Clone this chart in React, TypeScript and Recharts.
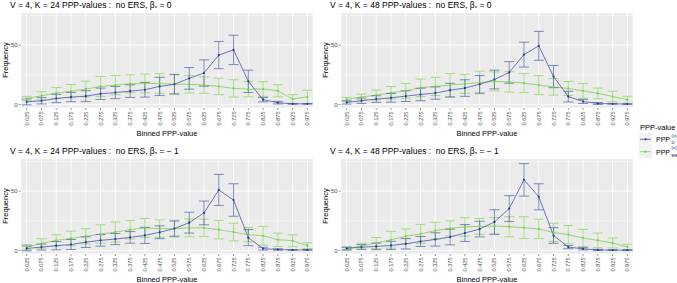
import React from 'react';
import { ComposedChart, Line, XAxis, YAxis, CartesianGrid, ErrorBar, ReferenceLine } from 'recharts';

const bins = [
  '0.025', '0.075', '0.125', '0.175', '0.225', '0.275', '0.325', '0.375', '0.425', '0.475',
  '0.525', '0.575', '0.625', '0.675', '0.725', '0.775', '0.825', '0.875', '0.925', '0.975',
];

// V = 4, K = 24, beta = 0
const k24b0D = [2.2, 3.1, 5, 6.2, 7, 9, 10, 11.2, 12.4, 15.2, 17, 22, 26.5, 41.6, 46, 19.5, 4, 1.5, 0.5, 0.5];
const k24b0DErr = [2.5, 2.7, 3.5, 3.9, 4.6, 4.8, 5.1, 5.3, 6.2, 7.7, 8.1, 9.1, 11.1, 11.5, 12.4, 9.4, 1.8, 1.1, 0.3, 0.3];
const k24b0ER = [5, 7.3, 9.6, 11.2, 13, 15.2, 16.3, 17.4, 17.7, 17.7, 17, 17, 16.3, 15.2, 13.5, 12.9, 13, 11.5, 4.5, 6.4];
const k24b0ERErr = [1.8, 3.4, 4.6, 5.6, 6.6, 8.4, 8.1, 7.6, 7.9, 8.3, 8.4, 7.3, 6.9, 7, 7.3, 6.5, 6.2, 5.2, 3.8, 5.6];

// V = 4, K = 48, beta = 0
const k48b0D = [1.7, 3.1, 4.5, 5.6, 7, 8.4, 9.6, 12, 13.8, 17, 21, 27, 42, 49.4, 23.5, 6.6, 2.5, 0.8, 0.5, 0.3];
const k48b0DErr = [1.4, 2.2, 2.8, 3.7, 4.5, 5.3, 5.2, 5.8, 7, 7.4, 7.9, 9.1, 10.5, 12.2, 9.4, 4.5, 1.7, 0.8, 0.3, 0.3];
const k48b0ER = [4.2, 6.2, 7.9, 9.8, 11.5, 14, 15.2, 16.3, 17.4, 18.5, 19.4, 19, 18, 16.3, 14.8, 13.5, 11.5, 9.3, 6.7, 3.9];
const k48b0ERErr = [1.7, 2.5, 4.2, 5.3, 6.2, 7.4, 7.7, 9.8, 8, 9.6, 8, 8.6, 8, 8, 7, 5.9, 6.2, 4.5, 4.5, 3];

// V = 4, K = 24, beta = -1
const k24bm1D = [1.7, 2.8, 4, 5, 7, 8.5, 9.6, 11, 12.7, 15.3, 18.4, 23.4, 31.6, 51, 42.5, 10.8, 1.5, 0.8, 0.4, 0.4];
const k24bm1DErr = [2, 2.5, 3.5, 4.2, 4.5, 4.9, 4.7, 4.9, 6.8, 5.4, 6.4, 8.8, 10, 13.1, 13.7, 6.8, 1.2, 0.6, 0.3, 0.3];
const k24bm1ER = [2.8, 5.9, 8.5, 10.2, 11.9, 13.8, 15.5, 17.5, 19, 18.4, 18.4, 19, 19, 17.5, 15.5, 13.3, 12.4, 9, 8.2, 4];
const k24bm1ERErr = [2.1, 4, 4.7, 6.1, 6.4, 7.8, 8.5, 7.8, 8, 7.3, 7.1, 7.5, 7.3, 7.8, 7.5, 6, 7.9, 5.6, 5, 2.5];

// V = 4, K = 48, beta = -1
const k48bm1D = [1.7, 2.8, 3.4, 4.2, 5.6, 7.6, 9.3, 11.3, 14.7, 18, 24, 35.3, 59.5, 45.2, 12.6, 2.8, 1.4, 0.4, 0.3, 0.3];
const k48bm1DErr = [1.1, 2.1, 2.8, 3.5, 4.4, 4.2, 5.6, 6.6, 7.1, 6.6, 10.3, 10.9, 13.7, 11, 6.6, 1.4, 1, 0.5, 0.3, 0.3];
const k48bm1ER = [1.4, 4, 6.2, 9, 11.9, 14, 16.7, 18.6, 19.8, 20.3, 20.6, 20, 19.2, 18.1, 15.2, 13.3, 10.5, 8.5, 6.3, 2.9];
const k48bm1ERErr = [1.4, 2.1, 4.7, 7.1, 6.2, 8, 7.1, 6.4, 7.8, 6.6, 7.1, 8.5, 9.2, 8.2, 7.7, 7.7, 7.3, 6.2, 4.2, 2.4];

const yTicks = [0, 50];

const BLUE = '#4657A5';
const GREEN = '#7ED24A';
const FONT = '"Liberation Sans", Arial, sans-serif';

function buildRows(d: number[], dErr: number[], er: number[], erErr: number[]) {
  return bins.map((bin, i) => ({ bin, d: d[i], dErr: dErr[i], er: er[i], erErr: erErr[i] }));
}

const panels = [
  { k: '24', beta: '0', left: 0, top: 0, rows: buildRows(k24b0D, k24b0DErr, k24b0ER, k24b0ERErr) },
  { k: '48', beta: '0', left: 320, top: 0, rows: buildRows(k48b0D, k48b0DErr, k48b0ER, k48b0ERErr) },
  { k: '24', beta: '\u2212 1', left: 0, top: 146.3, rows: buildRows(k24bm1D, k24bm1DErr, k24bm1ER, k24bm1ERErr) },
  { k: '48', beta: '\u2212 1', left: 320, top: 146.3, rows: buildRows(k48bm1D, k48bm1DErr, k48bm1ER, k48bm1ERErr) },
];

const XTick = (props: any) => {
  const { x, y, payload } = props;
  return (
    <text
      x={x}
      y={y}
      transform={`rotate(-90 ${x} ${y})`}
      textAnchor="end"
      dominantBaseline="central"
      fontSize={5.6}
      fontFamily={FONT}
      fill="#4D4D4D"
    >
      {payload.value}
    </text>
  );
};

function Panel({ k, beta, left, top, rows }: any) {
  return (
    <div style={{ position: 'absolute', left, top, width: 320, height: 140 }}>
      <ComposedChart
        width={320}
        height={140}
        data={rows}
        margin={{ top: 12.5, right: 6.6, left: 6.7, bottom: 0 }}
      >
        <CartesianGrid fill="#EBEBEB" fillOpacity={1} stroke="#FFFFFF" strokeWidth={0.9} />
        <ReferenceLine y={25} stroke="#FFFFFF" strokeWidth={0.45} />
        <ReferenceLine y={75} stroke="#FFFFFF" strokeWidth={0.45} />
        <XAxis
          dataKey="bin"
          type="category"
          interval={0}
          padding={{ left: 6, right: 6 }}
          height={32}
          axisLine={false}
          tickLine={{ stroke: '#333333', strokeWidth: 0.5 }}
          tickSize={2}
          tickMargin={1.5}
          tick={<XTick />}
        />
        <YAxis
          type="number"
          domain={[-3, 77.5]}
          ticks={yTicks}
          allowDataOverflow
          width={14}
          axisLine={false}
          tickLine={{ stroke: '#333333', strokeWidth: 0.5 }}
          tickSize={2}
          tickMargin={1}
          tick={{ fontSize: 6, fill: '#4D4D4D', fontFamily: FONT }}
        />
        <Line
          dataKey="er"
          stroke={GREEN}
          strokeWidth={0.8}
          dot={{ r: 1.1, fill: GREEN, stroke: GREEN, strokeWidth: 0 }}
          isAnimationActive={false}
        >
          <ErrorBar dataKey="erErr" width={5} stroke={GREEN} strokeWidth={0.8} strokeOpacity={0.85} />
        </Line>
        <Line
          dataKey="d"
          stroke={BLUE}
          strokeWidth={0.8}
          dot={{ r: 1.1, fill: '#2B3C8C', stroke: '#2B3C8C', strokeWidth: 0 }}
          isAnimationActive={false}
        >
          <ErrorBar dataKey="dErr" width={5} stroke={BLUE} strokeWidth={0.8} strokeOpacity={0.85} />
        </Line>
      </ComposedChart>
      <div
        style={{
          position: 'absolute', left: 10, top: 0, fontSize: 8.5, lineHeight: '10px',
          fontFamily: FONT, color: '#000', whiteSpace: 'pre',
        }}
      >
        {`V = 4, K = ${k} PPP-values :  no ERS, \u03B2`}
        <sub style={{ fontSize: 6, verticalAlign: '-1.5px' }}>*</sub>
        {` = ${beta}`}
      </div>
      <div
        style={{
          position: 'absolute', left: 5, top: 60, fontSize: 7.5, fontFamily: FONT, color: '#000',
          transform: 'translate(-50%, -50%) rotate(-90deg)', whiteSpace: 'nowrap',
        }}
      >
        Frequency
      </div>
      <div
        style={{
          position: 'absolute', left: 167, top: 133, fontSize: 7.5, fontFamily: FONT, color: '#000',
          transform: 'translate(-50%, -50%)', whiteSpace: 'nowrap',
        }}
      >
        Binned PPP-value
      </div>
    </div>
  );
}

function LegendBox() {
  return (
    <svg width={41} height={45} style={{ position: 'absolute', left: 636, top: 120 }}>
      <text x={4} y={9.5} fontSize={7.5} fontFamily={FONT} fill="#000">PPP-value</text>
      <rect x={3} y={13} width={13} height={12.4} fill="#F2F2F2" />
      <line x1={4} x2={15} y1={19.3} y2={19.3} stroke={BLUE} strokeWidth={0.8} />
      <circle cx={9.5} cy={19.3} r={1.1} fill="#2B3C8C" />
      <rect x={3} y={25.4} width={13} height={12.4} fill="#F2F2F2" />
      <line x1={4} x2={15} y1={31.7} y2={31.7} stroke={GREEN} strokeWidth={0.8} />
      <circle cx={9.5} cy={31.7} r={1.1} fill={GREEN} />
      <text x={20} y={22} fontSize={7} fontFamily={FONT} fill="#000">PPP</text>
      <text x={35.5} y={16.5} fontSize={4.2} fontFamily={FONT} fill="#000">(s)</text>
      <text x={35.5} y={24} fontSize={4.2} fontFamily={FONT} fill="#000">D</text>
      <text x={20} y={34.5} fontSize={7} fontFamily={FONT} fill="#000">PPP</text>
      <text x={35.5} y={29} fontSize={4.2} fontFamily={FONT} fill="#000">(s)</text>
      <text x={35.5} y={36.5} fontSize={4.2} fontFamily={FONT} fill="#000">ER</text>
    </svg>
  );
}

export default function App() {
  return (
    <div
      style={{
        position: 'absolute', left: 0, top: 0, width: 677, height: 283,
        background: '#FFFFFF', overflow: 'hidden',
      }}
    >
      {panels.map((p, i) => (
        <Panel key={i} {...p} />
      ))}
      <LegendBox />
    </div>
  );
}
